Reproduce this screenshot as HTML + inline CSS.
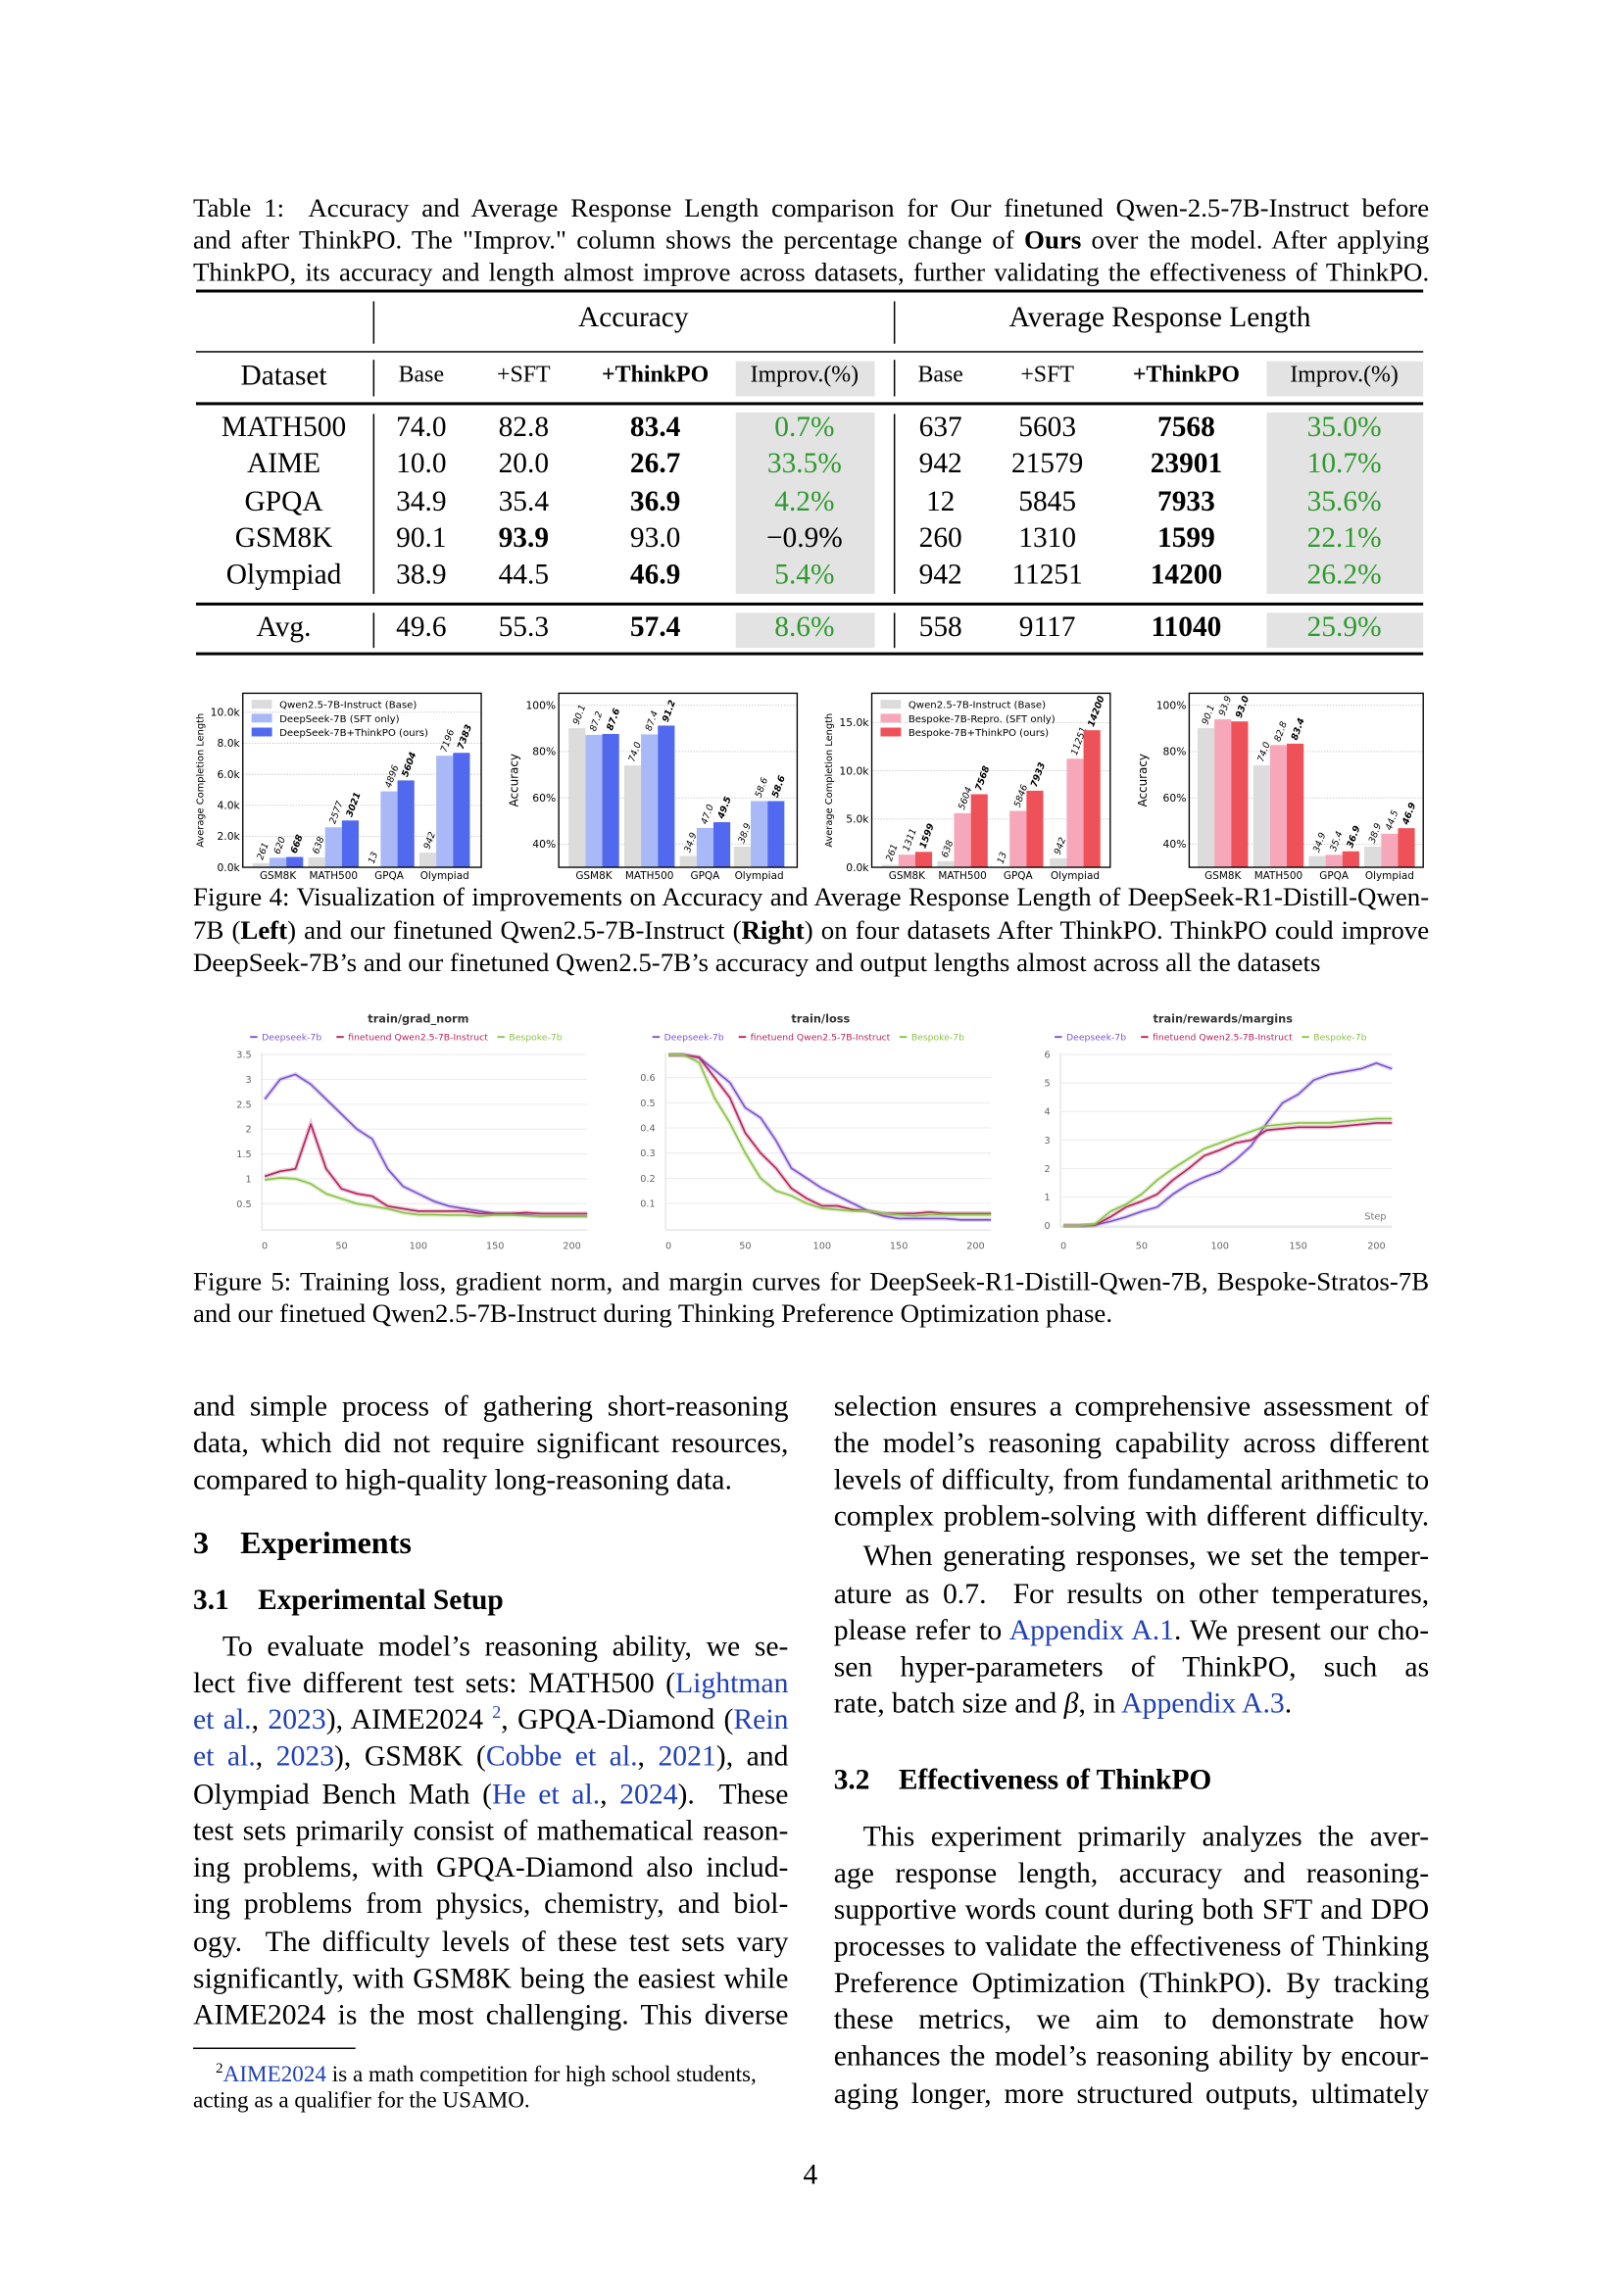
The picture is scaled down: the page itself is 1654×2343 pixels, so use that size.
<!DOCTYPE html>
<html><head><meta charset="utf-8">
<style>
html,body{margin:0;padding:0;background:#fff;}
body{width:1654px;height:2339px;overflow:hidden;position:relative;}
#page{position:absolute;left:0;top:0;width:1100px;height:1570px;transform:scale(1.4925);transform-origin:0 0;font-family:"Liberation Serif",serif;color:#000;}
.t{position:absolute;white-space:nowrap;}
.j{position:absolute;text-align:justify;text-align-last:justify;overflow:hidden;}
.cap{font-size:18px;line-height:20px;height:20px;}
.bd{font-size:19.9px;line-height:22px;height:22px;}
.c{position:absolute;transform:translateX(-50%);white-space:nowrap;}
.a{color:#2040b8;}
.g{color:#2e9a2e;}
.rule{position:absolute;background:#000;}
.box{position:absolute;background:#e3e3e3;}
svg{position:absolute;left:0;top:0;}
</style></head>
<body>
<div id="page">

<div class="j cap" style="left:132px;top:132px;width:845px">Table 1:&nbsp; Accuracy and Average Response Length comparison for Our finetuned Qwen-2.5-7B-Instruct before</div>
<div class="j cap" style="left:132px;top:154px;width:845px">and after ThinkPO. The "Improv." column shows the percentage change of <b>Ours</b> over the model. After applying</div>
<div class="j cap" style="left:132px;top:176px;width:845px">ThinkPO, its accuracy and length almost improve across datasets, further validating the effectiveness of ThinkPO.</div>

<div>
<div class="box" style="left:503px;top:247px;width:95px;height:24px"></div>
<div class="box" style="left:866px;top:247px;width:107px;height:24px"></div>
<div class="box" style="left:503px;top:282px;width:95px;height:124px"></div>
<div class="box" style="left:866px;top:282px;width:107px;height:124px"></div>
<div class="box" style="left:503px;top:419px;width:95px;height:24px"></div>
<div class="box" style="left:866px;top:419px;width:107px;height:24px"></div>
<div class="rule" style="left:134px;top:198px;width:839px;height:2px"></div>
<div class="rule" style="left:134px;top:240px;width:839px;height:1px"></div>
<div class="rule" style="left:134px;top:275px;width:839px;height:1.5px"></div>
<div class="rule" style="left:134px;top:412px;width:839px;height:1.5px"></div>
<div class="rule" style="left:134px;top:446px;width:839px;height:2px"></div>
<div class="rule" style="left:255px;top:206px;width:1px;height:29px"></div>
<div class="rule" style="left:611px;top:206px;width:1px;height:29px"></div>
<div class="rule" style="left:255px;top:246px;width:1px;height:25px"></div>
<div class="rule" style="left:611px;top:246px;width:1px;height:25px"></div>
<div class="rule" style="left:255px;top:283px;width:1px;height:123px"></div>
<div class="rule" style="left:611px;top:283px;width:1px;height:123px"></div>
<div class="rule" style="left:255px;top:419px;width:1px;height:24px"></div>
<div class="rule" style="left:611px;top:419px;width:1px;height:24px"></div>
<div class="c" style="left:433px;top:206px;font-size:19.7px">Accuracy</div>
<div class="c" style="left:793px;top:206px;font-size:19.7px">Average Response Length</div>
<div id="tbl"></div>
</div>

<div class="j cap" style="left:132px;top:603px;width:845px">Figure 4: Visualization of improvements on Accuracy and Average Response Length of DeepSeek-R1-Distill-Qwen-</div>
<div class="j cap" style="left:132px;top:626px;width:845px">7B (<b>Left</b>) and our finetuned Qwen2.5-7B-Instruct (<b>Right</b>) on four datasets After ThinkPO. ThinkPO could improve</div>
<div class="t cap" style="left:132px;top:648px">DeepSeek-7B’s and our finetuned Qwen2.5-7B’s accuracy and output lengths almost across all the datasets</div>

<div class="j cap" style="left:132px;top:866px;width:845px">Figure 5: Training loss, gradient norm, and margin curves for DeepSeek-R1-Distill-Qwen-7B, Bespoke-Stratos-7B</div>
<div class="t cap" style="left:132px;top:888px">and our finetued Qwen2.5-7B-Instruct during Thinking Preference Optimization phase.</div>

<div>
<div class="j bd" style="left:132px;top:951px;width:407px">and simple process of gathering short-reasoning</div>
<div class="j bd" style="left:132px;top:976px;width:407px">data, which did not require significant resources,</div>
<div class="t bd" style="left:132px;top:1001px">compared to high-quality long-reasoning data.</div>
<div class="t" style="left:132px;top:1043px;font-size:21.5px;font-weight:bold">3&nbsp;&nbsp;&nbsp;&nbsp;Experiments</div>
<div class="t" style="left:132px;top:1083px;font-size:19.7px;font-weight:bold">3.1&nbsp;&nbsp;&nbsp;&nbsp;Experimental Setup</div>
<div class="j bd" style="left:152px;top:1115px;width:387px">To evaluate model’s reasoning ability, we se-</div>
<div class="j bd" style="left:132px;top:1140px;width:407px">lect five different test sets: MATH500 (<span class="a">Lightman</span></div>
<div class="j bd" style="left:132px;top:1165px;width:407px"><span class="a">et al.</span>, <span class="a">2023</span>), AIME2024 <sup style="font-size:12px;line-height:0" class="a">2</sup>, GPQA-Diamond (<span class="a">Rein</span></div>
<div class="j bd" style="left:132px;top:1190px;width:407px"><span class="a">et al.</span>, <span class="a">2023</span>), GSM8K (<span class="a">Cobbe et al.</span>, <span class="a">2021</span>), and</div>
<div class="j bd" style="left:132px;top:1216px;width:407px">Olympiad Bench Math (<span class="a">He et al.</span>, <span class="a">2024</span>).&nbsp; These</div>
<div class="j bd" style="left:132px;top:1241px;width:407px">test sets primarily consist of mathematical reason-</div>
<div class="j bd" style="left:132px;top:1266px;width:407px">ing problems, with GPQA-Diamond also includ-</div>
<div class="j bd" style="left:132px;top:1291px;width:407px">ing problems from physics, chemistry, and biol-</div>
<div class="j bd" style="left:132px;top:1317px;width:407px">ogy.&nbsp; The difficulty levels of these test sets vary</div>
<div class="j bd" style="left:132px;top:1342px;width:407px">significantly, with GSM8K being the easiest while</div>
<div class="j bd" style="left:132px;top:1367px;width:407px">AIME2024 is the most challenging. This diverse</div>
<div class="rule" style="left:132px;top:1400px;width:111px;height:1px"></div>
<div class="t" style="left:132px;top:1406px;font-size:15.5px;line-height:18px">&nbsp;&nbsp;&nbsp;&nbsp;<sup style="font-size:10px">2</sup><span class="a">AIME2024</span> is a math competition for high school students,<br>acting as a qualifier for the USAMO.</div>
</div>

<div>
<div class="j bd" style="left:570px;top:951px;width:407px">selection ensures a comprehensive assessment of</div>
<div class="j bd" style="left:570px;top:976px;width:407px">the model’s reasoning capability across different</div>
<div class="j bd" style="left:570px;top:1001px;width:407px">levels of difficulty, from fundamental arithmetic to</div>
<div class="j bd" style="left:570px;top:1026px;width:407px">complex problem-solving with different difficulty.</div>
<div class="j bd" style="left:590px;top:1053px;width:387px">When generating responses, we set the temper-</div>
<div class="j bd" style="left:570px;top:1079px;width:407px">ature as 0.7.&nbsp; For results on other temperatures,</div>
<div class="j bd" style="left:570px;top:1104px;width:407px">please refer to <span class="a">Appendix A.1</span>. We present our cho-</div>
<div class="j bd" style="left:570px;top:1129px;width:407px">sen hyper-parameters of ThinkPO, such as learning</div>
<div class="t bd" style="left:570px;top:1154px">rate, batch size and <i>β</i>, in <span class="a">Appendix A.3</span>.</div>
<div class="t" style="left:570px;top:1206px;font-size:19.7px;font-weight:bold">3.2&nbsp;&nbsp;&nbsp;&nbsp;Effectiveness of ThinkPO</div>
<div class="j bd" style="left:590px;top:1245px;width:387px">This experiment primarily analyzes the aver-</div>
<div class="j bd" style="left:570px;top:1270px;width:407px">age response length, accuracy and reasoning-</div>
<div class="j bd" style="left:570px;top:1295px;width:407px">supportive words count during both SFT and DPO</div>
<div class="j bd" style="left:570px;top:1320px;width:407px">processes to validate the effectiveness of Thinking</div>
<div class="j bd" style="left:570px;top:1345px;width:407px">Preference Optimization (ThinkPO). By tracking</div>
<div class="j bd" style="left:570px;top:1370px;width:407px">these metrics, we aim to demonstrate how ThinkPO</div>
<div class="j bd" style="left:570px;top:1395px;width:407px">enhances the model’s reasoning ability by encour-</div>
<div class="j bd" style="left:570px;top:1421px;width:407px">aging longer, more structured outputs, ultimately</div>
</div>
<div class="c" style="left:554px;top:1476px;font-size:19.7px">4</div>

<svg id="fig" width="1100" height="1570" viewBox="0 0 1100 1570"></svg>
</div>

<script>
const tblDatasets = ['MATH500','AIME','GPQA','GSM8K','Olympiad'];
const accBase = ['74.0','10.0','34.9','90.1','38.9'];
const accSft = ['82.8','20.0','35.4','93.9','44.5'];
const accPo = ['83.4','26.7','36.9','93.0','46.9'];
const accImp = ['0.7%','33.5%','4.2%','−0.9%','5.4%'];
const lenBase = ['637','942','12','260','942'];
const lenSft = ['5603','21579','5845','1310','11251'];
const lenPo = ['7568','23901','7933','1599','14200'];
const lenImp = ['35.0%','10.7%','35.6%','22.1%','26.2%'];

const groups4 = ['GSM8K','MATH500','GPQA','Olympiad'];
const qwenLenBase = [261,638,13,942];
const dsLenSft = [620,2577,4896,7196];
const dsLenPo = [668,3021,5604,7383];
const qwenAccBase = [90.1,74.0,34.9,38.9];
const dsAccSft = [87.2,87.4,47.0,58.6];
const dsAccPo = [87.6,91.2,49.5,58.6];
const bsLenSft = [1311,5604,5846,11251];
const bsLenPo = [1599,7568,7933,14200];
const bsAccSft = [93.9,82.8,35.4,44.5];
const bsAccPo = [93.0,83.4,36.9,46.9];
const lenTicks1 = [0,2000,4000,6000,8000,10000];
const lenTicks3 = [0,5000,10000,15000];
const accTicks = [40,60,80,100];

const steps5 = [0,10,20,30,40,50,60,70,80,90,100,110,120,130,140,150,160,170,180,190,200,210];
const gnDeep = [2.6,3.0,3.1,2.9,2.6,2.3,2.0,1.8,1.2,0.85,0.7,0.55,0.45,0.4,0.35,0.3,0.3,0.28,0.25,0.25,0.25,0.25];
const gnQwen = [1.05,1.15,1.2,2.1,1.2,0.8,0.7,0.65,0.45,0.4,0.35,0.35,0.35,0.35,0.3,0.3,0.3,0.32,0.3,0.3,0.3,0.3];
const gnBesp = [0.98,1.02,1.0,0.9,0.7,0.6,0.5,0.45,0.4,0.32,0.28,0.28,0.27,0.27,0.25,0.27,0.27,0.26,0.25,0.25,0.25,0.25];
const lossDeep = [0.69,0.69,0.68,0.63,0.58,0.48,0.44,0.35,0.24,0.2,0.16,0.13,0.1,0.07,0.05,0.04,0.04,0.04,0.04,0.035,0.035,0.035];
const lossQwen = [0.69,0.69,0.68,0.6,0.52,0.38,0.3,0.24,0.16,0.12,0.09,0.09,0.075,0.07,0.06,0.06,0.06,0.065,0.06,0.06,0.06,0.06];
const lossBesp = [0.69,0.69,0.66,0.52,0.42,0.3,0.2,0.15,0.13,0.1,0.08,0.075,0.07,0.07,0.06,0.055,0.05,0.055,0.055,0.055,0.055,0.055];
const mDeep = [0,0,0.02,0.15,0.3,0.5,0.65,1.1,1.45,1.7,1.9,2.3,2.8,3.6,4.3,4.6,5.1,5.3,5.4,5.5,5.7,5.5];
const mQwen = [0,0,0.02,0.3,0.65,0.85,1.1,1.6,2.0,2.45,2.65,2.9,3.0,3.35,3.4,3.45,3.45,3.45,3.5,3.55,3.6,3.6];
const mBesp = [0,0,0.05,0.5,0.75,1.1,1.6,2.0,2.35,2.7,2.9,3.1,3.3,3.5,3.55,3.6,3.6,3.6,3.65,3.7,3.75,3.75];
const gnTicks = [0.5,1,1.5,2,2.5,3,3.5];
const lossTicks = [0.1,0.2,0.3,0.4,0.5,0.6];
const mTicks = [0,1,2,3,4,5,6];
const xTicks5 = [0,50,100,150,200];

const NS = 'http://www.w3.org/2000/svg';
const svg = document.getElementById('fig');
function mk(tag, parent, attrs){
  const e = document.createElementNS(NS, tag);
  for (const k in attrs) e.setAttribute(k, attrs[k]);
  parent.appendChild(e);
  return e;
}
function txt(parent, x, y, s, attrs){
  const e = mk('text', parent, Object.assign({x:x, y:y}, attrs||{}));
  e.textContent = s;
  return e;
}

const tbl = document.getElementById('tbl');
function cell(x, y, s, size, bold, cls, name){
  const d = document.createElement('div');
  d.className = 'c' + (cls ? ' ' + cls : '');
  d.style.left = x + 'px'; d.style.top = (y - 12) + 'px';
  d.style.fontSize = size + 'px';
  if (bold) d.style.fontWeight = 'bold';
  d.textContent = s;
  
  
  tbl.appendChild(d);
}
const colX = [288,358,448,550,643,716,811,919];
cell(194, 258, 'Dataset', 19.7, false, '', 'dataset-col-header');
const hdrs = ['Base','+SFT','+ThinkPO','Improv.(%)','Base','+SFT','+ThinkPO','Improv.(%)'];
hdrs.forEach((h,i)=>cell(colX[i], 260, h, 16, h==='+ThinkPO', '', 'col-header'));
const rowY = [293,318,344,369,394];
tblDatasets.forEach((d,r)=>{
  const y = rowY[r];
  cell(194, y, d, 19.7, false, '', 'dataset-name');
  cell(colX[0], y, accBase[r], 19.7, false, '', 'acc-base');
  cell(colX[1], y, accSft[r], 19.7, d==='GSM8K', '', 'acc-sft');
  cell(colX[2], y, accPo[r], 19.7, d!=='GSM8K', '', 'acc-thinkpo');
  cell(colX[3], y, accImp[r], 19.7, false, accImp[r][0]==='−'?'':'g', 'acc-improv');
  cell(colX[4], y, lenBase[r], 19.7, false, '', 'len-base');
  cell(colX[5], y, lenSft[r], 19.7, false, '', 'len-sft');
  cell(colX[6], y, lenPo[r], 19.7, true, '', 'len-thinkpo');
  cell(colX[7], y, lenImp[r], 19.7, false, 'g', 'len-improv');
});
cell(194, 430, 'Avg.', 19.7, false, '', 'avg-label');
const avgRow = ['49.6','55.3','57.4','8.6%','558','9117','11040','25.9%'];
avgRow.forEach((v,i)=>cell(colX[i], 430, v, 19.7, i===2||i===6, (i===3||i===7)?'g':'', 'avg-value'));

function barPanel(cfg){
  const g = mk('g', svg, {});
  
  
  const y = v => cfg.y0 - (v - cfg.vmin) * cfg.ppu;
  cfg.ticks.forEach(t=>{
    const gl = mk('line', g, {x1:cfg.x0, x2:cfg.x1, y1:y(t), y2:y(t), stroke:'#c8c8c8', 'stroke-width':0.6, 'stroke-dasharray':'1,1'});
    
    const tl = txt(g, cfg.x0-2, y(t)+2.5, cfg.fmt(t), {'font-size':7.2, 'text-anchor':'end', 'font-family':'DejaVu Sans, sans-serif'});
    
  });
  const colors = cfg.colors, series = cfg.series, bw = 11.5;
  groups4.forEach((grp,i)=>{
    const cx = cfg.gx[i];
    series.forEach((s,k)=>{
      const v = s[i];
      const bx = cx + (k-1)*bw - bw/2;
      const b = mk('rect', g, {x:bx, y:y(Math.max(v,cfg.vmin)), width:bw, height:cfg.y0 - y(Math.max(v,cfg.vmin)), fill:colors[k]});
      
      
      const lx = bx + bw/2 + 1, ly = y(Math.max(v,cfg.vmin)) - 2;
      const lab = txt(g, lx, ly, cfg.lfmt(v), {'font-size':6.3, 'font-style':'italic', 'font-weight':k===2?'bold':'normal', 'font-family':'DejaVu Sans, sans-serif', transform:'rotate(-70 '+lx+' '+ly+')'});
      
    });
    const xl = txt(g, cx, cfg.y0+8, grp, {'font-size':7, 'text-anchor':'middle', 'font-family':'DejaVu Sans, sans-serif'});
    
  });
  const fr = mk('rect', g, {x:cfg.x0, y:cfg.ytop, width:cfg.x1-cfg.x0, height:cfg.y0-cfg.ytop, fill:'none', stroke:'#000', 'stroke-width':0.9});
  
  const ax = txt(g, 0, 0, cfg.ylab, {'font-size':cfg.ylabSize, 'text-anchor':'middle', 'font-family':'DejaVu Sans, sans-serif', transform:'translate('+cfg.ylabX+','+((cfg.ytop+cfg.y0)/2)+') rotate(-90)'});
  
  if (cfg.legend){
    cfg.legend.forEach((l,k)=>{
      const ly = cfg.ytop + 8 + k*9.5;
      const sw = mk('rect', g, {x:cfg.x0+6, y:ly-3.5, width:14, height:6, fill:colors[k]});
      
      const lt = txt(g, cfg.x0+25, ly+2.2, l, {'font-size':6.8, 'font-family':'DejaVu Sans, sans-serif'});
      
    });
  }
}
const fmtK = t => (t/1000).toFixed(1) + 'k';
const fmtPct = t => t + '%';
barPanel({name:'deepseek-length-chart', x0:166, x1:329, ytop:474, y0:593, vmin:0, ppu:0.0106, ticks:lenTicks1, fmt:fmtK, lfmt:v=>String(v),
  gx:[190,228,266,304], series:[qwenLenBase, dsLenSft, dsLenPo], colors:['#dcdcdc','#a9b9f7','#5169ee'],
  ylab:'Average Completion Length', ylabX:139, ylabSize:6.6,
  legend:['Qwen2.5-7B-Instruct (Base)','DeepSeek-7B (SFT only)','DeepSeek-7B+ThinkPO (ours)']});
barPanel({name:'deepseek-accuracy-chart', x0:382, x1:545, ytop:474, y0:593, vmin:30, ppu:1.583, ticks:accTicks, fmt:fmtPct, lfmt:v=>v.toFixed(1),
  gx:[406,444,482,519], series:[qwenAccBase, dsAccSft, dsAccPo], colors:['#dcdcdc','#a9b9f7','#5169ee'],
  ylab:'Accuracy', ylabX:354, ylabSize:8});
barPanel({name:'bespoke-length-chart', x0:596, x1:759, ytop:474, y0:593, vmin:0, ppu:0.0066, ticks:lenTicks3, fmt:fmtK, lfmt:v=>String(v),
  gx:[620,658,696,735], series:[qwenLenBase, bsLenSft, bsLenPo], colors:['#dcdcdc','#f6a8ba','#ef5158'],
  ylab:'Average Completion Length', ylabX:569, ylabSize:6.6,
  legend:['Qwen2.5-7B-Instruct (Base)','Bespoke-7B-Repro. (SFT only)','Bespoke-7B+ThinkPO (ours)']});
barPanel({name:'bespoke-accuracy-chart', x0:813, x1:973, ytop:474, y0:593, vmin:30, ppu:1.583, ticks:accTicks, fmt:fmtPct, lfmt:v=>v.toFixed(1),
  gx:[836,874,912,950], series:[qwenAccBase, bsAccSft, bsAccPo], colors:['#dcdcdc','#f6a8ba','#ef5158'],
  ylab:'Accuracy', ylabX:784, ylabSize:8});

const c5 = ['#7e55cc','#b3265f','#8dc24b'];
const names5 = ['Deepseek-7b','finetuend Qwen2.5-7B-Instruct','Bespoke-7b'];
function linePanel(cfg){
  const g = mk('g', svg, {});
  
  
  const x = s => cfg.xa + s * (cfg.xb - cfg.xa) / 200;
  const y = v => cfg.y0 - v * cfg.ppu;
  const xr = x(210);
  cfg.ticks.forEach(t=>{
    const gl = mk('line', g, {x1:cfg.xa-2, x2:xr, y1:y(t), y2:y(t), stroke:'#ececec', 'stroke-width':0.7});
    
    const tl = txt(g, cfg.xa-9, y(t)+2.3, String(t), {'font-size':6.5, fill:'#666', 'text-anchor':'end', 'font-family':'DejaVu Sans, sans-serif'});
    
  });
  const axl = mk('line', g, {x1:cfg.xa-2, x2:cfg.xa-2, y1:720, y2:cfg.y0+1, stroke:'#ddd', 'stroke-width':0.7});
  
  const axb = mk('line', g, {x1:cfg.xa-2, x2:xr, y1:cfg.y0+1, y2:cfg.y0+1, stroke:'#ddd', 'stroke-width':0.7});
  
  xTicks5.forEach(t=>{
    const tl = txt(g, x(t), 854, String(t), {'font-size':6.5, fill:'#666', 'text-anchor':'middle', 'font-family':'DejaVu Sans, sans-serif'});
    
  });
  cfg.series.forEach((s,k)=>{
    const pts = s.map((v,i)=>x(steps5[i]).toFixed(1)+','+y(v).toFixed(1)).join(' ');
    const halo = mk('polyline', g, {points:pts, fill:'none', stroke:c5[k], 'stroke-opacity':0.25, 'stroke-width':3});
    
    const pl = mk('polyline', g, {points:pts, fill:'none', stroke:c5[k], 'stroke-width':1.1, 'stroke-linejoin':'round'});
    
    
  });
  const title = txt(g, cfg.tx, 699, cfg.title, {'font-size':7.6, fill:'#333', 'text-anchor':'middle', 'font-weight':'bold', 'font-family':'DejaVu Sans, sans-serif'});
  
  const lx = [cfg.tx-115, cfg.tx-56, cfg.tx+54];
  names5.forEach((n,k)=>{
    const sw = mk('line', g, {x1:lx[k], x2:lx[k]+5, y1:709, y2:709, stroke:c5[k], 'stroke-width':1.3});
    
    const lt = txt(g, lx[k]+8, 711.3, n, {'font-size':6.2, fill:c5[k], 'font-family':'DejaVu Sans, sans-serif'});
    
  });
  if (cfg.step){
    const st = txt(g, xr-4, 834, 'Step', {'font-size':6.5, fill:'#777', 'text-anchor':'end', 'font-family':'DejaVu Sans, sans-serif'});
    
  }
}
linePanel({name:'grad-norm-chart', title:'train/grad_norm', tx:286, xa:181, xb:391, y0:840, ppu:34, ticks:gnTicks, series:[gnDeep,gnQwen,gnBesp]});
linePanel({name:'loss-chart', title:'train/loss', tx:561, xa:457, xb:667, y0:840, ppu:172, ticks:lossTicks, series:[lossDeep,lossQwen,lossBesp]});
linePanel({name:'margins-chart', title:'train/rewards/margins', tx:836, xa:727, xb:941, y0:838, ppu:19.5, ticks:mTicks, series:[mDeep,mQwen,mBesp], step:true});
</script>
</body></html>
